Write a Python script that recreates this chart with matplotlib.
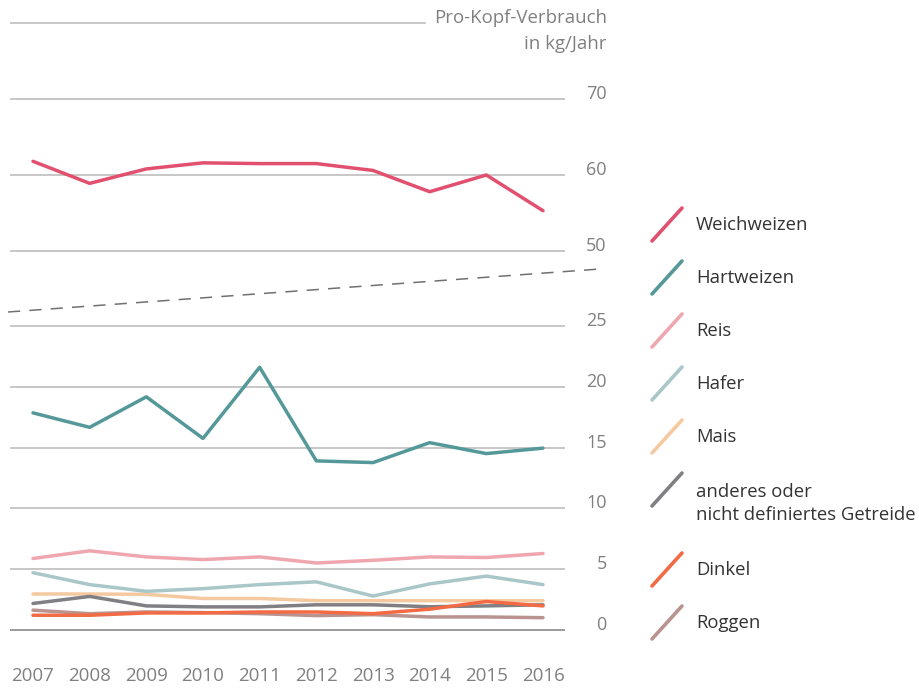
import matplotlib.pyplot as plt
from matplotlib.lines import Line2D

plt.rcParams['font.family'] = ['Open Sans', 'DejaVu Sans']

years = [2007, 2008, 2009, 2010, 2011, 2012, 2013, 2014, 2015, 2016]

weichweizen = [61.8, 58.9, 60.8, 61.6, 61.5, 61.5, 60.6, 57.8, 60.0, 55.3]
hartweizen = [17.85, 16.66, 19.17, 15.75, 21.6, 13.9, 13.76, 15.4, 14.5, 14.95]
reis = [5.87, 6.5, 6.0, 5.78, 6.0, 5.5, 5.72, 6.0, 5.95, 6.28]
hafer = [4.7, 3.72, 3.17, 3.39, 3.72, 3.95, 2.78, 3.78, 4.42, 3.72]
mais = [2.95, 2.95, 2.92, 2.58, 2.58, 2.4, 2.4, 2.4, 2.4, 2.4]
anderes = [2.17, 2.75, 1.97, 1.89, 1.89, 2.06, 2.06, 1.9, 1.97, 2.06]
dinkel = [1.2, 1.2, 1.39, 1.39, 1.47, 1.47, 1.33, 1.7, 2.33, 1.97]
roggen = [1.62, 1.33, 1.47, 1.42, 1.33, 1.17, 1.25, 1.06, 1.06, 1.0]

names = ['Weichweizen', 'Hartweizen', 'Reis', 'Hafer', 'Mais',
         'anderes oder\nnicht definiertes Getreide', 'Dinkel', 'Roggen']
colors = ['#e2506f', '#559899', '#f0a6af', '#a9c6c9', '#f5c9a0',
          '#808084', '#f26b45', '#b8938f']

top_ticks = [50, 60, 70]
bottom_ticks = [0, 5, 10, 15, 20, 25]

W, H = 919, 689
fig = plt.figure(figsize=(9.19, 6.89), dpi=100)

def frac_x(px):
    return px / W

def frac_y(py):
    return (H - py) / H

xlim = (2007 - 23 / 56.67, 2016 + 22 / 56.67)
grid_col = '#bdbdbd'
tick_col = '#808080'

# upper part (Weichweizen)
ax_top = fig.add_axes([frac_x(10), frac_y(266.2), frac_x(555), frac_y(15.4) - frac_y(266.2)])
ax_top.set_ylim(48, 81)
# lower part
ax_bot = fig.add_axes([frac_x(10), frac_y(642), frac_x(555), frac_y(313.8) - frac_y(642)])
ax_bot.set_ylim(-1, 26)

for ax, ticks in [(ax_top, top_ticks), (ax_bot, bottom_ticks)]:
    ax.set_xlim(*xlim)
    for s in ax.spines.values():
        s.set_visible(False)
    ax.patch.set_alpha(0)
    ax.yaxis.tick_right()
    ax.set_yticks(ticks, [str(t) for t in ticks], ha='right', va='baseline')
    ax.tick_params(axis='y', length=0, pad=30, labelsize=13, labelcolor=tick_col)
    for t in ticks:
        c = '#8a8a8a' if t == 0 else grid_col
        ax.axhline(t, color=c, lw=1.2, zorder=1)

ax_top.set_xticks([])
ax_bot.set_xticks(years)
ax_bot.set_xticklabels([str(y) for y in years])
ax_bot.tick_params(axis='x', length=0, pad=18, labelsize=13.5, labelcolor=tick_col)

# short top line with unit label
ax_top.axhline(80, xmin=0, xmax=415 / 555, color=grid_col, lw=1.2)
fig.text(frac_x(607), frac_y(18), 'Pro-Kopf-Verbrauch', ha='right', va='center',
         fontsize=13.4, color=tick_col)
fig.text(frac_x(607), frac_y(44), 'in kg/Jahr', ha='right', va='center',
         fontsize=13.4, color=tick_col)

lw = 2.5
ax_top.plot(years, weichweizen, color=colors[0], lw=lw, solid_capstyle='round', zorder=3)
series = [hartweizen, reis, hafer, mais, anderes, dinkel, roggen]
order = [6, 3, 4, 2, 1, 0, 5]
for i in order:
    ax_bot.plot(years, series[i], color=colors[i + 1], lw=lw,
                solid_capstyle='round', zorder=3)

# axis break
fig.add_artist(Line2D([frac_x(8), frac_x(600)], [frac_y(312), frac_y(269)],
                      color='#707070', lw=1.1, dashes=(8, 6)))

# legend
y = 225
for name, col in zip(names, colors):
    fig.add_artist(Line2D([frac_x(652), frac_x(682)], [frac_y(y + 16), frac_y(y - 17)],
                          color=col, lw=2.6, solid_capstyle='round'))
    nl = name.count('\n')
    fig.text(frac_x(696), frac_y(y + 13.5 * nl), name, ha='left', va='center',
             fontsize=13.3, color='#333333', linespacing=1.42)
    y += 53 + 27 * nl

fig.savefig('out.png', dpi=100)
